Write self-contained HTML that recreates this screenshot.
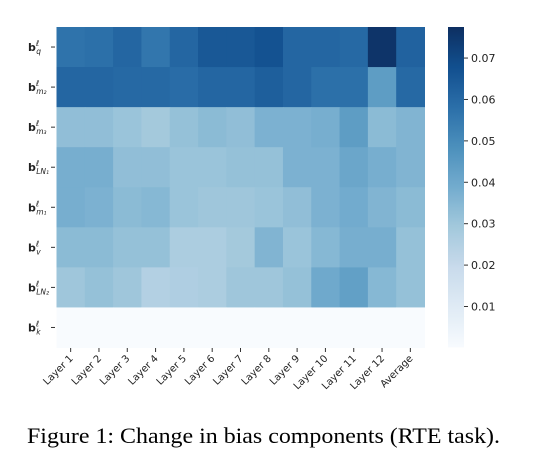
<!DOCTYPE html>
<html><head><meta charset="utf-8"><style>
body{margin:0;background:#fff;width:536px;height:472px;overflow:hidden}
svg{display:block}
</style></head><body>
<svg id="chart" width="536" height="472" xmlns="http://www.w3.org/2000/svg">
<defs>
<linearGradient id="cbg" x1="0" y1="1" x2="0" y2="0">
<stop offset="0" stop-color="#f7fbff"/><stop offset="0.125" stop-color="#deebf7"/><stop offset="0.25" stop-color="#c6dbef"/><stop offset="0.375" stop-color="#9ecae1"/><stop offset="0.5" stop-color="#6baed6"/><stop offset="0.625" stop-color="#4292c6"/><stop offset="0.75" stop-color="#2171b5"/><stop offset="0.875" stop-color="#08519c"/><stop offset="1" stop-color="#08306b"/>
</linearGradient>
</defs>
<g id="cells" style="filter:saturate(0.85)"></g>
<g id="yaxis"></g>
<g id="xaxis"></g>
<rect x="448" y="27" width="16" height="320.5" fill="url(#cbg)" style="filter:saturate(0.85)"/>
<g id="cbaxis"></g>
<text x="27" y="443" textLength="473" lengthAdjust="spacingAndGlyphs" font-family="Liberation Serif, serif" font-size="22.5" fill="#000">Figure 1: Change in bias components (RTE task).</text>
</svg>
<script>
const columns = ["Layer 1","Layer 2","Layer 3","Layer 4","Layer 5","Layer 6","Layer 7","Layer 8","Layer 9","Layer 10","Layer 11","Layer 12","Average"];
const rowSubs = ["q","m₂","m₃","LN₁","m₁","v","LN₂","k"];
const rowQ   = [0.057,0.058,0.061,0.056,0.061,0.065,0.065,0.067,0.061,0.061,0.060,0.076,0.062];
const rowM2  = [0.061,0.061,0.060,0.060,0.059,0.061,0.061,0.063,0.061,0.058,0.058,0.044,0.060];
const rowM3  = [0.033,0.033,0.031,0.029,0.032,0.034,0.033,0.037,0.037,0.038,0.044,0.034,0.036];
const rowLN1 = [0.038,0.038,0.033,0.033,0.031,0.031,0.032,0.032,0.037,0.037,0.041,0.038,0.036];
const rowM1  = [0.038,0.037,0.034,0.035,0.031,0.030,0.030,0.031,0.033,0.037,0.039,0.036,0.034];
const rowV   = [0.034,0.034,0.032,0.032,0.027,0.027,0.029,0.036,0.031,0.035,0.038,0.038,0.032];
const rowLN2 = [0.030,0.032,0.030,0.025,0.026,0.027,0.030,0.030,0.032,0.040,0.043,0.035,0.032];
const rowK   = [0.0001,0.0001,0.0001,0.0001,0.0001,0.0001,0.0001,0.0001,0.0001,0.0001,0.0001,0.0001,0.0001];
const colorTicks = [0.01,0.02,0.03,0.04,0.05,0.06,0.07];

const rows=[rowQ,rowM2,rowM3,rowLN1,rowM1,rowV,rowLN2,rowK];
const NS="http://www.w3.org/2000/svg";
const X0=56.5,X1=424.5,Y0=27,Y1=347.5,VMIN=0.0001,VMAX=0.0775;
const cw=(X1-X0)/columns.length, rh=(Y1-Y0)/rows.length;
const xPos=i=>X0+i*cw, yPos=j=>Y0+j*rh;
const cbY=v=>Y1-(v-VMIN)/(VMAX-VMIN)*(Y1-Y0);
const stops=["#f7fbff","#deebf7","#c6dbef","#9ecae1","#6baed6","#4292c6","#2171b5","#08519c","#08306b"].map(h=>[1,3,5].map(k=>parseInt(h.substr(k,2),16)));
function color(v){let t=Math.max(0,Math.min(1,(v-VMIN)/(VMAX-VMIN)))*8;let i=Math.min(7,Math.floor(t)),f=t-i;const c=stops[i].map((a,k)=>Math.round(a+(stops[i+1][k]-a)*f));return `rgb(${c})`;}
function mk(tag,attrs,parent){const e=document.createElementNS(NS,tag);for(const k in attrs)e.setAttribute(k,attrs[k]);parent.appendChild(e);return e;}
const cells=document.getElementById('cells'),ya=document.getElementById('yaxis'),xa=document.getElementById('xaxis'),cb=document.getElementById('cbaxis');
rows.forEach((r,j)=>r.forEach((v,i)=>{
 const e=mk('rect',{x:xPos(i),y:yPos(j),width:cw+0.5,height:rh+0.5,fill:color(v)},cells);
 
 
}));
rowSubs.forEach((s,j)=>{
 const cy=yPos(j)+rh/2;
 const t=mk('line',{x1:51,x2:55,y1:cy,y2:cy,stroke:'#333','stroke-width':1},ya);
 
 
 const tx=mk('text',{x:28,y:cy+4,'font-family':'DejaVu Sans, sans-serif','font-size':11,fill:'#222'},ya);
 
 
 tx.innerHTML=`<tspan font-weight="bold">b</tspan><tspan dy="-5" font-size="8" font-style="italic">ℓ</tspan><tspan dx="-3" dy="8" font-size="7.5" font-style="italic">${s}</tspan>`;
});
columns.forEach((c,i)=>{
 const cx=xPos(i)+cw/2;
 const t=mk('line',{x1:cx,x2:cx,y1:348,y2:352,stroke:'#333','stroke-width':1},xa);
 
 
 const tx=mk('text',{x:cx+3,y:359,'text-anchor':'end','font-family':'DejaVu Sans, sans-serif','font-size':10,fill:'#222',transform:`rotate(-45 ${cx+3} 359)`},xa);
 
 
 tx.textContent=c;
});
colorTicks.forEach(v=>{
 const y=cbY(v);
 const t=mk('line',{x1:464,x2:468,y1:y,y2:y,stroke:'#333','stroke-width':1},cb);
 
 
 const tx=mk('text',{x:471,y:y+4,'font-family':'DejaVu Sans, sans-serif','font-size':11,fill:'#222'},cb);
 
 
 tx.textContent=v.toFixed(2);
});
</script>
</body></html>
